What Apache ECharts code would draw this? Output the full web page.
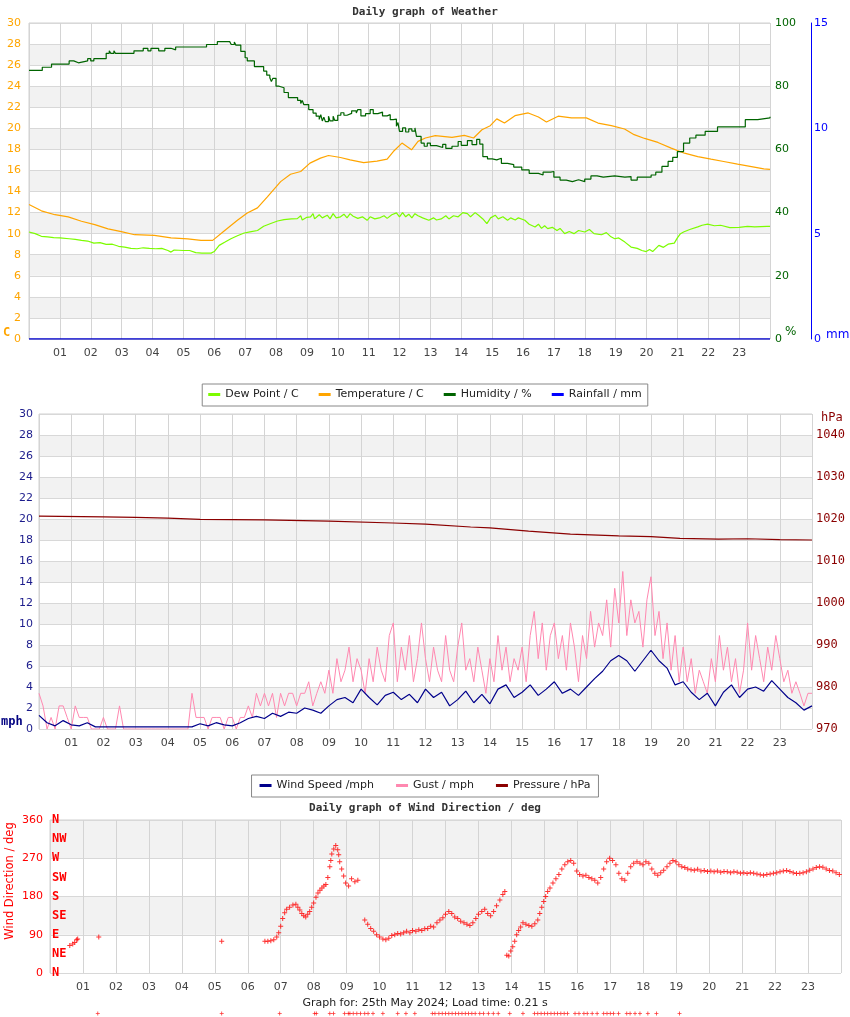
<!DOCTYPE html>
<html><head><meta charset="utf-8">
<script src="https://cdn.jsdelivr.net/npm/echarts@6/dist/echarts.min.js"></script>
<style>html,body{margin:0;padding:0;background:#fff}#c{width:850px;height:1017px}</style>
</head><body><div id="c"></div><script>
const hourLabels = ['01','02','03','04','05','06','07','08','09','10','11','12','13','14','15','16','17','18','19','20','21','22','23'];
const compassLabels = ['N','NE','E','SE','S','SW','W','NW','N'];

// Chart 1 : [hour, value]
const dewPoint = [[0,10.16],[0.2,10.0],[0.4,9.75],[0.6,9.7],[0.8,9.62],[1.0,9.6],[1.3,9.52],[1.5,9.45],[1.7,9.36],[1.9,9.3],[2.1,9.1],[2.3,9.15],[2.5,8.98],[2.7,9.0],[2.9,8.8],[3.1,8.73],[3.3,8.6],[3.5,8.57],[3.7,8.66],[3.9,8.6],[4.1,8.57],[4.3,8.6],[4.5,8.4],[4.6,8.25],[4.7,8.45],[5.0,8.4],[5.2,8.4],[5.4,8.2],[5.6,8.15],[5.9,8.15],[6.0,8.3],[6.16,8.89],[6.35,9.2],[6.54,9.52],[6.75,9.8],[6.97,10.06],[7.2,10.2],[7.4,10.3],[7.6,10.7],[7.83,10.96],[8.05,11.2],[8.26,11.34],[8.5,11.4],[8.69,11.43],[8.8,11.7],[8.85,11.3],[9.0,11.55],[9.12,11.6],[9.2,11.9],[9.25,11.4],[9.4,11.8],[9.5,11.5],[9.66,11.75],[9.75,11.4],[9.85,11.9],[9.95,11.5],[10.09,11.6],[10.2,11.85],[10.3,11.5],[10.4,11.9],[10.5,11.66],[10.65,11.45],[10.8,11.6],[10.95,11.27],[11.05,11.6],[11.2,11.4],[11.38,11.53],[11.5,11.7],[11.6,11.45],[11.75,11.8],[11.9,11.97],[12.0,11.6],[12.1,12.0],[12.2,11.6],[12.3,11.85],[12.4,11.5],[12.5,11.9],[12.6,11.7],[12.75,11.5],[12.95,11.27],[13.1,11.5],[13.2,11.3],[13.35,11.4],[13.5,11.7],[13.6,11.4],[13.75,11.7],[13.9,11.6],[14.05,12.0],[14.2,11.9],[14.3,11.6],[14.45,12.0],[14.56,11.75],[14.7,11.4],[14.83,10.96],[14.95,11.5],[15.1,11.75],[15.2,11.4],[15.35,11.6],[15.5,11.27],[15.6,11.5],[15.75,11.3],[15.85,11.5],[16.06,11.27],[16.2,10.9],[16.39,10.64],[16.5,10.9],[16.6,10.5],[16.7,10.75],[16.8,10.48],[16.95,10.6],[17.1,10.3],[17.2,10.5],[17.35,10.0],[17.5,10.2],[17.65,10.0],[17.8,10.3],[18.0,10.16],[18.15,10.4],[18.3,10.0],[18.54,9.9],[18.7,10.1],[18.85,9.7],[18.97,9.52],[19.1,9.6],[19.3,9.2],[19.5,8.73],[19.7,8.6],[19.85,8.4],[19.99,8.3],[20.1,8.5],[20.2,8.3],[20.4,8.89],[20.55,8.7],[20.7,9.0],[20.9,9.1],[21.0,9.6],[21.1,10.0],[21.2,10.16],[21.4,10.4],[21.66,10.64],[21.8,10.8],[21.98,10.9],[22.2,10.75],[22.4,10.8],[22.7,10.57],[23.0,10.6],[23.27,10.7],[23.5,10.65],[23.9,10.7],[24,10.7]];
const temperature = [[0,12.77],[0.4,12.17],[0.84,11.8],[1.27,11.6],[1.7,11.18],[2.13,10.86],[2.56,10.45],[2.99,10.2],[3.42,9.9],[4.06,9.84],[4.6,9.6],[5.14,9.5],[5.57,9.36],[5.95,9.36],[6.3,10.2],[6.75,11.27],[7.07,11.97],[7.4,12.45],[7.72,13.5],[8.15,14.94],[8.47,15.64],[8.8,15.9],[9.1,16.7],[9.44,17.17],[9.7,17.42],[10.09,17.23],[10.4,17.0],[10.84,16.75],[11.27,16.88],[11.6,17.07],[11.8,17.8],[12.08,18.6],[12.14,18.66],[12.39,17.96],[12.6,18.76],[12.84,19.08],[13.16,19.3],[13.7,19.14],[14.1,19.33],[14.4,19.08],[14.67,19.87],[14.94,20.25],[15.15,20.9],[15.4,20.5],[15.74,21.2],[16.17,21.46],[16.5,21.08],[16.76,20.6],[17.14,21.15],[17.57,20.99],[18.05,20.99],[18.43,20.5],[18.86,20.25],[19.29,19.94],[19.6,19.4],[19.94,19.04],[20.37,18.66],[20.8,18.12],[21.23,17.64],[21.66,17.32],[22.09,17.07],[22.5,16.85],[22.95,16.6],[23.4,16.37],[23.8,16.15],[24,16.1]];
const humidity = [[0,85],[0.43,86],[0.73,87],[1.3,88],[1.45,87.4],[1.6,88],[1.9,88.7],[2.0,88.0],[2.1,88.7],[2.5,90.4],[2.6,91.2],[2.65,90.4],[2.75,91.2],[2.8,90.4],[3.4,91.2],[3.7,92],[3.85,91.2],[3.95,92],[4.2,91.2],[4.4,92],[4.6,92.4],[4.65,91.5],[4.75,92.4],[5.75,93.2],[6.1,94.1],[6.5,94.1],[6.55,93.2],[6.65,94],[6.7,93],[6.86,91],[7.0,89],[7.07,88],[7.3,86.2],[7.6,84.8],[7.7,83.5],[7.8,82.7],[7.85,81.5],[7.9,82.5],[8.0,80],[8.1,79.5],[8.26,78],[8.4,76.4],[8.7,75.5],[8.8,74.5],[8.85,75.5],[8.9,74.2],[9.06,72.6],[9.2,71.5],[9.3,70.5],[9.4,69.5],[9.45,71],[9.5,69],[9.55,70.2],[9.6,68.8],[9.7,70.5],[9.75,69],[9.85,70.5],[9.9,69.2],[10.0,70.8],[10.1,71.6],[10.2,70.8],[10.3,71.4],[10.45,72.2],[10.6,71.5],[10.65,72.6],[10.75,70.6],[10.9,71.3],[11.05,72.6],[11.15,71.3],[11.3,71.8],[11.45,70.6],[11.6,71],[11.7,69.4],[11.8,69.6],[11.9,67.3],[11.95,68.5],[12.0,65.7],[12.1,66.8],[12.2,65.5],[12.3,66.5],[12.4,65.8],[12.5,66.8],[12.55,64.1],[12.7,62],[12.8,61],[12.9,62],[13.0,61.2],[13.2,60.6],[13.4,61.6],[13.5,60.3],[13.7,61],[13.9,62.5],[14.0,61.3],[14.2,62.8],[14.35,61.5],[14.5,63.2],[14.6,61.7],[14.7,57.7],[14.85,57],[15.0,56.7],[15.15,57.2],[15.3,55.6],[15.5,55.2],[15.7,54.4],[15.96,53.5],[16.2,52.4],[16.5,51.9],[16.65,52.8],[16.9,53.0],[17.0,51.2],[17.2,50.3],[17.4,49.8],[17.6,50.4],[17.8,49.8],[18.0,50.6],[18.2,51.6],[18.4,51.2],[18.6,51.6],[18.97,51.2],[19.3,51.4],[19.5,50.3],[19.7,51.2],[20.15,51.9],[20.3,52.8],[20.5,54.6],[20.7,56.2],[20.85,57.5],[21.0,59.3],[21.2,62],[21.4,63.6],[21.6,64.5],[21.9,65.7],[22.3,67.1],[22.9,67.1],[23.2,69.4],[23.6,70],[24,70.3]];
const rainfall = [[0,0],[6,0],[12,0],[18,0],[24,0]];

// Chart 2 : wind speed every 0.25 h, gust every 0.125 h (mph), pressure [hour, hPa]
const windSpeed = [1.3,0.6,0.3,0.8,0.4,0.3,0.6,0.2,0.2,0.2,0.2,0.2,0.2,0.2,0.2,0.2,0.2,0.2,0.2,0.2,0.5,0.3,0.6,0.4,0.3,0.6,1.0,1.2,1.0,1.5,1.2,1.6,1.5,2.0,1.8,1.5,2.2,2.8,3.0,2.5,3.8,3.0,2.3,3.2,3.5,2.8,3.3,2.5,3.8,3.0,3.5,2.2,2.8,3.6,2.5,3.3,2.4,3.8,4.2,3.0,3.5,4.2,3.2,3.8,4.5,3.4,3.8,3.2,4.0,4.8,5.5,6.5,7.0,6.5,5.5,6.5,7.5,6.5,5.8,4.2,4.5,3.5,2.8,3.4,2.2,3.5,4.2,3.0,3.8,4.0,3.6,4.6,3.8,3.0,2.5,1.8,2.2];
const gust = [3.4,2.2,0,1.1,0,2.2,2.2,1.1, 0,2.2,1.1,1.1,1.1,0,0,0, 1.1,0,0,0,2.2,0,0,0, 0,0,0,0,0,0,0,0, 0,0,0,0,0,0,3.4,1.1,
 1.1,1.1,0,1.1,1.1,1.1,0,1.1, 1.1,0,1.1,1.1,2.2,1.1,3.4,2.2, 3.4,2.2,3.4,1.1,3.4,2.2,3.4,3.4, 2.2,3.4,3.4,4.5,2.2,3.4,4.5,3.4,
 5.6,3.4,6.7,4.5,5.6,7.8,4.5,6.7, 5.6,3.4,6.7,4.5,7.8,5.6,4.5,8.9, 10.1,4.5,7.8,5.6,8.9,4.5,6.7,10.1, 6.7,4.5,7.8,5.6,4.5,8.9,5.6,4.5,
 7.8,10.1,5.6,6.7,4.5,7.8,5.6,3.4, 6.7,4.5,8.9,5.6,7.8,4.5,6.7,5.6, 7.8,4.5,8.9,11.2,6.7,10.1,5.6,8.9, 10.1,6.7,8.9,5.6,10.1,7.8,4.5,8.9,
 6.7,11.2,7.8,10.1,8.9,12.3,7.8,13.4, 10.1,15.0,8.9,12.3,10.1,11.2,7.8,12.3, 14.5,8.9,11.2,6.7,10.1,5.6,8.9,4.5, 7.8,4.5,6.7,3.4,5.6,4.5,3.4,6.7,
 4.5,8.9,5.6,7.8,4.5,6.7,3.4,5.6, 10.1,5.6,8.9,6.7,4.5,7.8,5.6,8.9, 6.7,4.5,5.6,3.4,4.5,3.4,2.2,3.4, 3.4];
const pressure = [[0,1020.7],[2,1020.5],[3,1020.4],[4,1020.2],[5,1019.9],[7,1019.8],[9,1019.5],[11,1019.05],[12,1018.8],[13.4,1018.1],[14,1017.9],[15.2,1017.1],[16.5,1016.4],[18,1016.0],[19,1015.8],[19.9,1015.4],[21.1,1015.2],[22,1015.3],[23,1015.1],[24,1015.0]];

// Chart 3 : wind direction [hour, deg]
const windDirection = [[0.6,65],[0.69,68],[0.75,72],[0.81,78],[0.84,80],[1.48,85],[5.21,75],
[6.52,75],[6.61,75],[6.7,76],[6.79,78],[6.88,85],[6.94,95],[7.0,110],[7.06,128],[7.12,142],[7.18,150],[7.27,155],[7.37,160],[7.46,162],[7.52,155],[7.58,148],[7.64,140],[7.7,135],[7.76,132],[7.82,138],[7.88,145],[7.94,155],[8.0,165],[8.07,178],[8.13,188],[8.19,195],[8.25,200],[8.31,205],[8.37,208],[8.43,225],[8.49,250],[8.52,265],[8.55,280],[8.61,292],[8.67,300],[8.73,290],[8.76,278],[8.79,262],[8.85,245],[8.91,228],[8.97,212],[9.06,205],[9.15,222],[9.25,215],[9.34,218],
[9.55,125],[9.64,115],[9.73,105],[9.82,98],[9.91,90],[10.0,85],[10.1,80],[10.19,78],[10.28,82],[10.37,88],[10.46,90],[10.55,93],[10.64,92],[10.73,95],[10.82,98],[10.92,95],[11.0,100],[11.1,98],[11.19,102],[11.28,100],[11.37,104],[11.46,105],[11.55,110],[11.64,108],[11.74,118],[11.83,125],[11.92,130],[12.0,138],[12.1,145],[12.19,140],[12.28,132],[12.37,128],[12.46,122],[12.56,118],[12.65,115],[12.74,112],[12.83,118],[12.92,128],[13.0,138],[13.1,145],[13.19,150],[13.28,140],[13.37,135],[13.46,145],[13.55,158],[13.65,172],[13.74,185],[13.8,192],
[13.86,42],[13.92,40],[13.98,52],[14.04,62],[14.1,75],[14.16,90],[14.22,100],[14.28,108],[14.35,118],[14.44,115],[14.53,112],[14.62,110],[14.71,116],[14.8,125],[14.86,140],[14.92,155],[14.98,168],[15.04,180],[15.1,192],[15.17,200],[15.26,212],[15.35,222],[15.44,232],[15.53,245],[15.62,255],[15.71,262],[15.8,265],[15.89,258],[15.98,240],[16.07,232],[16.17,228],[16.26,230],[16.35,225],[16.44,222],[16.53,218],[16.62,212],[16.71,225],[16.8,245],[16.89,262],[16.98,270],[17.07,265],[17.17,255],[17.26,235],[17.35,222],[17.44,218],[17.53,235],[17.62,250],[17.71,258],[17.81,262],[17.9,258],[17.99,255],[18.08,262],[18.17,258],[18.26,245],[18.35,235],[18.44,230],[18.53,236],[18.62,242],[18.72,250],[18.81,258],[18.9,265],[18.99,262],[19.08,255],[19.17,250],[19.26,248],
[19.35,245],[19.45,243],[19.55,242],[19.65,244],[19.75,240],[19.85,241],[19.95,239],[20.05,240],[20.15,238],[20.25,240],[20.35,237],[20.45,239],[20.55,238],[20.65,236],[20.75,238],[20.85,237],[20.95,235],[21.05,236],[21.15,234],[21.25,236],[21.35,235],[21.45,233],[21.55,231],[21.65,230],[21.75,232],[21.85,233],[21.95,235],[22.05,236],[22.15,238],[22.25,240],[22.35,241],[22.45,239],[22.55,236],[22.65,234],[22.75,235],[22.85,236],[22.95,238],[23.05,242],[23.15,245],[23.25,248],[23.35,250],[23.45,249],[23.55,245],[23.65,241],[23.75,240],[23.85,236],[23.95,232]];
// readings drawn below the direction scale (calm / no direction)
const calmHours = [1.45,5.21,6.97,8.03,8.08,8.49,8.6,8.94,9.05,9.1,9.2,9.31,9.42,9.55,9.65,9.8,10.1,10.55,10.8,11.07,11.6,11.68,11.8,11.9,12.0,12.1,12.2,12.3,12.4,12.5,12.6,12.7,12.8,12.9,13.04,13.15,13.3,13.45,13.6,13.95,14.35,14.7,14.8,14.9,15.0,15.1,15.2,15.3,15.4,15.5,15.6,15.7,15.93,16.05,16.2,16.3,16.45,16.6,16.8,16.9,17.0,17.1,17.25,17.5,17.6,17.75,17.9,18.14,18.4,19.1];
const calmLevel = -95;

const pressureLabels = [970,980,990,1000,1010,1020,1030,1040];

const chart = echarts.init(document.getElementById('c'), null, {renderer:'canvas'});
const FONT = 'DejaVu Sans';
const MONO = 'DejaVu Sans Mono';
function xAx(gi) {
  return {type:'value', gridIndex:gi, min:0, max:24, interval:1,
    axisLine:{show:false}, axisTick:{show:false},
    splitLine:{show:true, lineStyle:{color:'#d4d4d4', width:1}},
    axisLabel:{margin:9, color:'#444', fontSize:11, fontFamily:FONT,
      formatter: v => (v >= 1 && v <= 23) ? hourLabels[v - 1] : ''}};
}
const splitArea = {show:true, areaStyle:{color:['#ffffff','#f2f2f2']}};
const gridLine = {show:true, lineStyle:{color:'#d8d8d8', width:1}};
const lineS = (name, data, color, xi, yi, extra) => Object.assign({
  name, type:'line', data, xAxisIndex:xi, yAxisIndex:yi, showSymbol:false, symbol:'none',
  lineStyle:{color, width:1.2}, itemStyle:{color}, emphasis:{disabled:true}}, extra || {});
const plus = 'path://M2,0h1v2h2v1h-2v2h-1v-2h-2v-1h2z';

const option = {
  animation:false,
  backgroundColor:'#ffffff',
  title:[
    {text:'Daily graph of Weather', left:'center', top:2, textStyle:{fontFamily:MONO, fontWeight:'bold', fontSize:11, color:'#333'}},
    {text:'Daily graph of Wind Direction / deg', left:'center', top:798, textStyle:{fontFamily:MONO, fontWeight:'bold', fontSize:11, color:'#333'}}
  ],
  legend:[
    {top:384, left:'center', data:['Dew Point / C','Temperature / C','Humidity / %','Rainfall / mm'],
     icon:'rect', itemWidth:12, itemHeight:3, itemGap:20, padding:[5,6,6,6],
     borderColor:'#888', borderWidth:1, backgroundColor:'#fff', z:10,
     textStyle:{fontFamily:FONT, fontSize:11, color:'#222'}},
    {top:775, left:'center', data:['Wind Speed /mph','Gust / mph','Pressure / hPa'],
     icon:'rect', itemWidth:12, itemHeight:3, itemGap:22, padding:[5,8,6,8],
     borderColor:'#888', borderWidth:1, backgroundColor:'#fff', z:10,
     textStyle:{fontFamily:FONT, fontSize:11, color:'#222'}}
  ],
  grid:[
    {left:29, top:23, width:741, height:316, show:true, borderColor:'#d0d0d0', borderWidth:1, containLabel:false},
    {left:39, top:414, width:773, height:315, show:true, borderColor:'#d0d0d0', borderWidth:1, containLabel:false},
    {left:50, top:820, width:791, height:153, show:true, borderColor:'#d0d0d0', borderWidth:1, containLabel:false}
  ],
  xAxis:[xAx(0), xAx(1), xAx(2)],
  yAxis:[
    {type:'value', gridIndex:0, position:'left', min:0, max:30, interval:2, axisLine:{show:false}, axisTick:{show:false},
     splitLine:gridLine, splitArea, axisLabel:{margin:8, color:'#ffa500', fontSize:11, fontFamily:FONT}},
    {type:'value', gridIndex:0, position:'right', min:0, max:100, interval:20, axisLine:{show:false}, axisTick:{show:false},
     splitLine:{show:false}, axisLabel:{margin:5, color:'#006400', fontSize:11, fontFamily:FONT}},
    {type:'value', gridIndex:0, position:'right', offset:41, min:0, max:15, interval:5, axisLine:{show:true, lineStyle:{color:'#0000ff', width:1}}, axisTick:{show:false},
     splitLine:{show:false}, axisLabel:{margin:3, color:'#0000ff', fontSize:11, fontFamily:FONT}},
    {type:'value', gridIndex:1, position:'left', min:0, max:30, interval:2, axisLine:{show:false}, axisTick:{show:false},
     splitLine:gridLine, splitArea, axisLabel:{margin:6, color:'#1c1c8c', fontSize:11, fontFamily:FONT}},
    {type:'value', gridIndex:1, position:'right', min:970, max:1045, interval:10, axisLine:{show:false}, axisTick:{show:false},
     splitLine:{show:false}, axisLabel:{margin:4, color:'#8b0000', fontSize:12, fontFamily:MONO,
       formatter: v => pressureLabels.indexOf(v) >= 0 ? String(v) : ''}},
    {type:'value', gridIndex:2, position:'left', min:0, max:360, interval:90, axisLine:{show:false}, axisTick:{show:false},
     splitLine:gridLine, splitArea, axisLabel:{margin:7, color:'#ff0000', fontSize:11, fontFamily:FONT}},
    {type:'value', gridIndex:2, position:'left', min:0, max:360, interval:45, axisLine:{show:false}, axisTick:{show:false},
     splitLine:{show:false}, axisLabel:{inside:true, margin:2, color:'#ff0000', fontSize:12, fontWeight:'bold', fontFamily:MONO,
       formatter: v => compassLabels[Math.round(v / 45)]}}
  ],
  series:[
    lineS('Rainfall / mm', rainfall, '#0000ff', 0, 2, {lineStyle:{color:'#0000cc', width:1.3}}),
    lineS('Dew Point / C', dewPoint, '#7cfc00', 0, 0),
    lineS('Temperature / C', temperature, '#ffa500', 0, 0),
    lineS('Humidity / %', humidity, '#006400', 0, 1, {step:'end'}),
    lineS('Gust / mph', gust.map((g, i) => [i / 8, g]), '#ff88b0', 1, 3, {lineStyle:{color:'#ff88b0', width:1}}),
    lineS('Wind Speed /mph', windSpeed.map((w, i) => [i / 4, w]), '#00008b', 1, 3),
    lineS('Pressure / hPa', pressure, '#8b0000', 1, 4),
    {name:'Wind Direction', type:'scatter', xAxisIndex:2, yAxisIndex:5, data:windDirection,
     symbol:plus, symbolSize:5, itemStyle:{color:'#ff0000'}, emphasis:{disabled:true}},
    {name:'Calm', type:'scatter', xAxisIndex:2, yAxisIndex:5, clip:false, data:calmHours.map(h => [h, calmLevel]),
     symbol:plus, symbolSize:4, itemStyle:{color:'#ff0000'}, emphasis:{disabled:true}}
  ],
  graphic:[
    {type:'text', left:356, top:396, z:-1, style:{text:'Daily graph of Wind', font:'bold 11px "DejaVu Sans Mono"', fill:'#333'}},
    {type:'text', left:3, top:327, style:{text:'C', font:'bold 12px "DejaVu Sans Mono"', fill:'#ffa500'}},
    {type:'text', left:785, top:326, style:{text:'%', font:'12px "DejaVu Sans"', fill:'#006400'}},
    {type:'text', left:826, top:329, style:{text:'mm', font:'12px "DejaVu Sans"', fill:'#0000ff'}},
    {type:'text', left:1, top:716, style:{text:'mph', font:'bold 12px "DejaVu Sans Mono"', fill:'#000080'}},
    {type:'text', left:821, top:412, style:{text:'hPa', font:'12px "DejaVu Sans Mono"', fill:'#8b0000'}},
    {type:'text', x:10, y:881, rotation:Math.PI/2, style:{text:'Wind Direction / deg', font:'11.5px "DejaVu Sans"', fill:'#ff0000', align:'center', verticalAlign:'middle'}},
    {type:'text', left:'center', top:998, style:{text:'Graph for: 25th May 2024; Load time: 0.21 s', font:'11px "DejaVu Sans"', fill:'#222'}}
  ]
};
chart.setOption(option);
</script></body></html>
